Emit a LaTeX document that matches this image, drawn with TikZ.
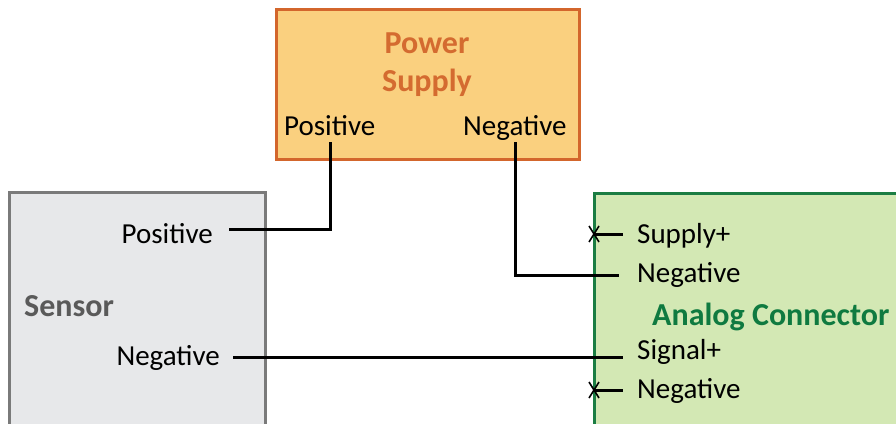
\documentclass[tikz,border=0pt]{standalone}
\usepackage{fontspec}
\setmainfont{Carlito}
\definecolor{psfill}{HTML}{FAD07F}
\definecolor{psline}{HTML}{D3662C}
\definecolor{pstext}{HTML}{D46B30}
\definecolor{snfill}{HTML}{E7E8EA}
\definecolor{snline}{HTML}{7A7A7A}
\definecolor{sntext}{HTML}{5A5A5A}
\definecolor{acfill}{HTML}{D3E8B4}
\definecolor{acline}{HTML}{1B7D43}
\definecolor{actext}{HTML}{0F7A40}
\tikzset{
  lbl/.style={inner sep=0pt, font=\fontsize{29}{34}\selectfont, text=black},
  ttl/.style={inner sep=0pt, font=\fontsize{32}{38}\selectfont\bfseries},
  wire/.style={line width=3pt, black},
  xmark/.style={line width=1.6pt, black},
  box/.style={line width=3pt}
}
\begin{document}
\begin{tikzpicture}[x=1pt,y=-1pt]
\useasboundingbox (0,0) rectangle (896,423);
\begin{scope}
\clip (0,0) rectangle (896,423);
% boxes
\draw[box, draw=psline, fill=psfill] (276,9) rectangle (579,159);
\draw[box, draw=snline, fill=snfill] (9.5,192.5) rectangle (265.5,440);
\draw[box, draw=acline, fill=acfill] (594.5,193) rectangle (910,440);
\end{scope}
% titles
\node[ttl, text=pstext, anchor=base] (pst1) at (427,53) {Power};
\node[ttl, text=pstext, anchor=base] (pst2) at (427,91) {Supply};
\node[ttl, text=sntext, anchor=base west] (snt) at (24,316) {Sensor};
\node[ttl, text=actext, anchor=base west] (act) at (652,325) {Analog Connector};
% power supply labels
\node[lbl, anchor=base west] (psp) at (284,135.5) {Positive};
\node[lbl, anchor=base west] (psn) at (463,135.5) {Negative};
% sensor labels
\node[lbl, anchor=base east] (snp) at (213,243) {Positive};
\node[lbl, anchor=base east] (snn) at (220,365) {Negative};
% analog labels
\node[lbl, anchor=base west] (acs) at (637,243) {Supply+};
\node[lbl, anchor=base west] (acn1) at (637,282) {Negative};
\node[lbl, anchor=base west] (acg) at (637,359) {Signal+};
\node[lbl, anchor=base west] (acn2) at (637,398) {Negative};
% coordinates
\coordinate (pspt) at (330,142);
\coordinate (psnt) at (515,142);
\coordinate (snpe) at (229,229);
\coordinate (snne) at (233,357);
\coordinate (acn1e) at (619,275);
\coordinate (acge) at (623,357);
\coordinate (acse) at (623,234);
\coordinate (acsx) at (594,234);
\coordinate (acn2e) at (623,390);
\coordinate (acn2x) at (594,390);
% wires
\draw[wire] (pspt) |- (snpe);
\draw[wire] (psnt) |- (acn1e);
\draw[wire] (snne) -- (acge);
\draw[wire] (acsx) -- (acse);
\draw[wire] (acn2x) -- (acn2e);
% x marks
\draw[xmark] ([shift={(-5,-8)}]acsx) -- ([shift={(5,8)}]acsx);
\draw[xmark] ([shift={(5,-8)}]acsx) -- ([shift={(-5,8)}]acsx);
\draw[xmark] ([shift={(-5,-8)}]acn2x) -- ([shift={(5,8)}]acn2x);
\draw[xmark] ([shift={(5,-8)}]acn2x) -- ([shift={(-5,8)}]acn2x);
\end{tikzpicture}
\end{document}
